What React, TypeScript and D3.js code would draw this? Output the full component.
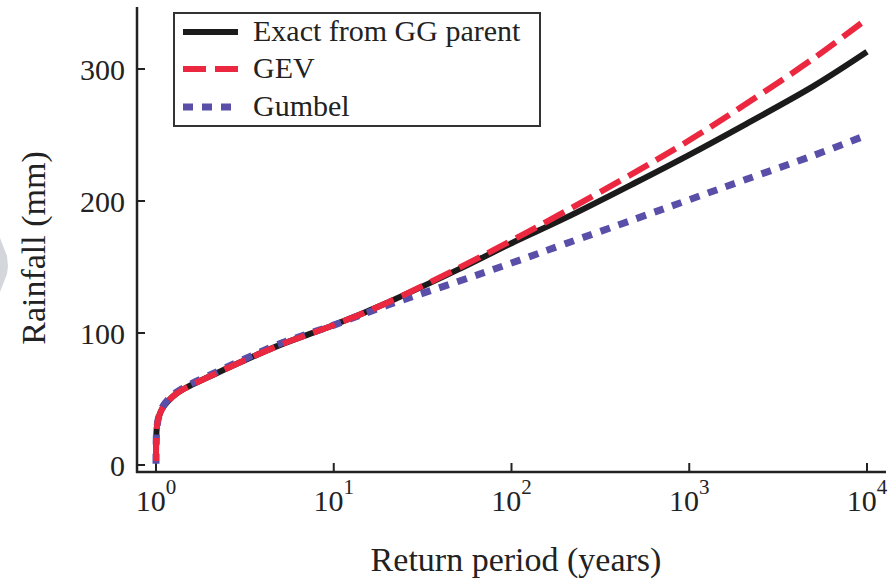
import React from "react";
import * as d3 from "d3";

const returnPeriods = [
  1.0002, 1.002, 1.01, 1.03, 1.06, 1.1, 1.18, 1.3, 1.5, 2, 3, 5, 10, 20, 50,
  100, 200, 500, 1000, 2000, 5000, 10000,
];
// rainfall (mm) for each series
const exactGG = [
  3, 17, 28, 35, 40, 44, 49, 54, 59, 67, 78, 91, 106, 123, 148, 168, 187, 214,
  235, 257, 287, 313,
];
const gev = [
  3, 17, 28, 35, 40, 44, 49, 54, 59, 67, 78, 91, 106, 123, 149, 170, 192, 222,
  246, 272, 308, 338,
];
const gumbel = [
  1, 15, 27, 35, 40, 45, 50, 55, 60, 68, 79, 92, 106, 121, 139, 153, 167.5,
  186.5, 201, 215.5, 234.5, 250,
];
const seriesNames = ["Exact from GG parent", "GEV", "Gumbel"];
const xTickExps = [0, 1, 2, 3, 4];
const yTicks = [0, 100, 200, 300];

const W = 896;
const H = 580;
const FONT = "'Liberation Serif', 'Times New Roman', serif";

const styles = [
  { color: "#1b1b1b", dash: null, width: 6 },
  { color: "#ec2740", dash: "23,9", width: 6 },
  { color: "#5a4fa8", dash: "10,9", width: 7 },
];

export default function App() {
  const x = d3.scaleLog().domain([1, 10000]).range([156, 867]);
  const y = d3.scaleLinear().domain([0, 300]).range([465, 69]);

  const line = d3
    .line<number>()
    .x((_, i) => x(returnPeriods[i]))
    .y((d) => y(d))
    .curve(d3.curveCatmullRom.alpha(0.5));

  const series = [exactGG, gev, gumbel];
  // draw order: exact, gumbel, gev on top
  const order = [0, 2, 1];

  const axisColor = "#222";
  const xAxisY = 472;
  const yAxisX = 137;

  return (
    <svg
      width={W}
      height={H}
      style={{ position: "absolute", left: 0, top: 0, background: "#fff" }}
      fontFamily={FONT}
    >
      {/* faint grey shape on the left edge */}
      <path d="M0,238 L7,256 L8,266 L7,274 L0,292 Z" fill="#d3d6da" />

      {/* axes */}
      <line x1={yAxisX} x2={yAxisX} y1={7} y2={xAxisY + 1} stroke={axisColor} strokeWidth={2.5} />
      <line x1={yAxisX - 1} x2={886} y1={xAxisY} y2={xAxisY} stroke={axisColor} strokeWidth={2.5} />

      {yTicks.map((t) => (
        <g key={t}>
          <line x1={yAxisX} x2={yAxisX + 8} y1={y(t)} y2={y(t)} stroke={axisColor} strokeWidth={2} />
          <text x={125} y={y(t) + 11} textAnchor="end" fontSize={30} fill="#222">
            {t}
          </text>
        </g>
      ))}

      {xTickExps.map((e) => (
        <g key={e}>
          <line
            x1={x(Math.pow(10, e))}
            x2={x(Math.pow(10, e))}
            y1={xAxisY}
            y2={xAxisY - 9}
            stroke={axisColor}
            strokeWidth={2}
          />
          <text x={x(Math.pow(10, e))} y={511} textAnchor="middle" fontSize={30} fill="#222">
            10
            <tspan dy={-17} fontSize={21}>
              {e}
            </tspan>
          </text>
        </g>
      ))}

      {/* curves */}
      {order.map((k) => (
        <path
          key={k}
          d={line(series[k]) || ""}
          fill="none"
          stroke={styles[k].color}
          strokeWidth={styles[k].width}
          strokeDasharray={styles[k].dash || undefined}
        />
      ))}

      {/* legend */}
      <rect x={174} y={13} width={366} height={113} fill="#fff" stroke="#333" strokeWidth={2} />
      {seriesNames.map((name, i) => {
        const ry = [32, 69, 107][i];
        return (
          <g key={name}>
            <line
              x1={183}
              x2={238}
              y1={ry}
              y2={ry}
              stroke={styles[i].color}
              strokeWidth={styles[i].width}
              strokeDasharray={styles[i].dash || undefined}
            />
            <text x={253} y={ry + 9} fontSize={30} fill="#222">
              {name}
            </text>
          </g>
        );
      })}

      {/* axis titles */}
      <text x={516} y={571} textAnchor="middle" fontSize={34} fill="#222">
        Return period (years)
      </text>
      <text
        transform="translate(45,248) rotate(-90)"
        textAnchor="middle"
        fontSize={34}
        fill="#222"
      >
        Rainfall (mm)
      </text>
    </svg>
  );
}
